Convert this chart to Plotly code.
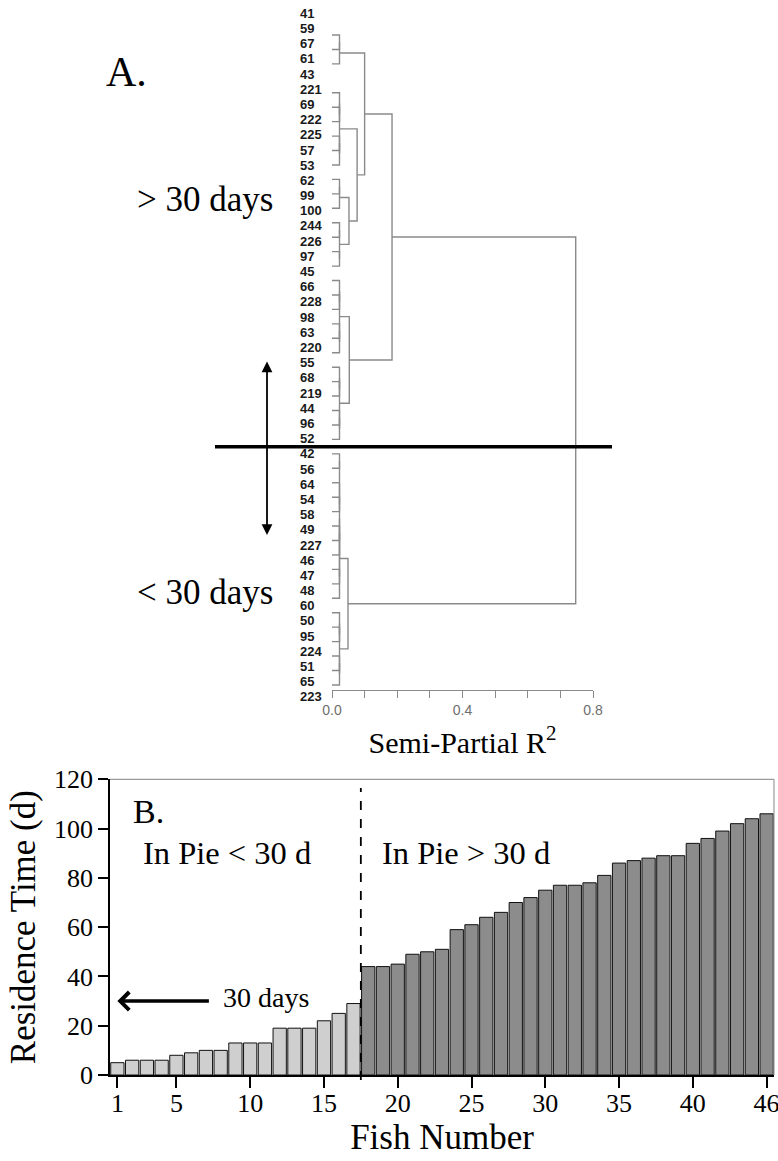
import plotly.graph_objects as go

# ---------------- data ----------------
# Panel A: fish IDs as listed down the dendrogram (text column)
leaf_labels = ["41", "59", "67", "61", "43", "221", "69", "222", "225", "57", "53",
               "62", "99", "100", "244", "226", "97", "45", "66", "228", "98", "63",
               "220", "55", "68", "219", "44", "96", "52", "42", "56", "64", "54",
               "58", "49", "227", "46", "47", "48", "60", "50", "95", "224", "51",
               "65", "223"]

# Cluster tree over leaf slots (slot 3 carries no branch).
# A node is [height, left, right]; an int is a leaf slot.
H_LEAF = 0.023
grp_a = [H_LEAF, [H_LEAF, 0, 1], 2]
grp_b = [H_LEAF, [H_LEAF, 4, [H_LEAF, 5, 6]], [H_LEAF, [H_LEAF, 7, 8], 9]]
grp_c = [H_LEAF, [H_LEAF, 10, 11], 12]
grp_d = [H_LEAF, [H_LEAF, 13, 14], [H_LEAF, 15, 16]]
grp_e = [H_LEAF, [H_LEAF, 17, [H_LEAF, 18, 19]], [H_LEAF, [H_LEAF, 20, 21], 22]]
grp_f = [H_LEAF, [H_LEAF, 23, [H_LEAF, 24, 25]], [H_LEAF, [H_LEAF, 26, 27], 28]]
grp_g = [H_LEAF,
         [H_LEAF,
          [H_LEAF, [H_LEAF, [H_LEAF, 29, 30], [H_LEAF, 32, 33]], 31],
          [H_LEAF, [H_LEAF, [H_LEAF, 34, 35], [H_LEAF, 37, 38]], 36]],
         39]
grp_h = [H_LEAF, [H_LEAF, 40, [H_LEAF, 41, 42]], [H_LEAF, [H_LEAF, 43, 44], 45]]

tree = [0.747,
        [0.184,
         [0.100, grp_a, [0.077, grp_b, [0.052, grp_c, grp_d]]],
         [0.053, grp_e, grp_f]],
        [0.049, grp_g, grp_h]]
split_slot = 28.5          # boundary between the two main clusters

# Panel B: residence time (days) per fish, sorted
short_stay = [5, 6, 6, 6, 8, 9, 10, 10, 13, 13, 13, 19, 19, 19, 22, 25, 29]
long_stay = [44, 44, 45, 49, 50, 51, 59, 61, 64, 66, 70, 72, 75, 77, 77, 78, 81,
             86, 87, 88, 89, 89, 94, 96, 99, 102, 104, 106]
fish_tickvals = [1, 5, 10, 15, 20, 25, 30, 35, 40, 45]
fish_ticktext = ["1", "5", "10", "15", "20", "25", "30", "35", "40", "46"]
threshold_days = 30

# ---------------- helpers ----------------
W, H = 778, 1161


def px(x):
    return x / W


def py(y):
    return 1 - y / H


seg_x, seg_y = [], []


def walk(node):
    """Return (slot position, height) of node and collect its branch segments."""
    if isinstance(node, int):
        return float(node), 0.0
    h, left, right = node
    p1, h1 = walk(left)
    p2, h2 = walk(right)
    seg_x.extend([h1, h, h, h2, None])
    seg_y.extend([p1, p1, p2, p2, None])
    return (p1 + p2) / 2, h


walk(tree)

SERIF = "Liberation Serif"
SANS = "Liberation Sans"
TREE_GRAY = "#8a8a8a"

fig = go.Figure()

# dendrogram branches
fig.add_trace(go.Scatter(x=seg_x, y=seg_y, mode="lines",
                         line=dict(color=TREE_GRAY, width=1.4),
                         xaxis="x", yaxis="y", hoverinfo="skip", showlegend=False))

# leaf label column (own axes so the column keeps its own spacing)
fig.add_trace(go.Scatter(x=[0] * len(leaf_labels), y=list(range(len(leaf_labels))),
                         mode="text", text=leaf_labels, textposition="middle right",
                         textfont=dict(family=SANS, size=13, color="#1a1a1a", weight="bold"),
                         cliponaxis=False, xaxis="x3", yaxis="y3",
                         hoverinfo="skip", showlegend=False))

# residence-time bars
n_short = len(short_stay)
x_short = list(range(1, n_short + 1))
x_long = list(range(n_short + 1, n_short + len(long_stay) + 1))
fig.add_trace(go.Bar(x=x_short, y=short_stay, marker=dict(color="#cfcfcf",
                     line=dict(color="#111111", width=1)),
                     xaxis="x2", yaxis="y2", showlegend=False))
fig.add_trace(go.Bar(x=x_long, y=long_stay, marker=dict(color="#8c8c8c",
                     line=dict(color="#111111", width=1)),
                     xaxis="x2", yaxis="y2", showlegend=False))

fig.update_layout(
    width=W, height=H, margin=dict(l=0, r=0, t=0, b=0),
    paper_bgcolor="white", plot_bgcolor="white",
    bargap=0.1,
    xaxis=dict(domain=[px(332), px(593)], range=[0, 0.8], anchor="y",
               showline=True, linecolor=TREE_GRAY, linewidth=1.4,
               ticks="outside", ticklen=7, tickcolor=TREE_GRAY, tickwidth=1.4,
               tickvals=[0, 0.1, 0.2, 0.3, 0.4, 0.5, 0.6, 0.7, 0.8],
               ticktext=["0.0", "", "", "", "0.4", "", "", "", "0.8"],
               tickfont=dict(family=SANS, size=14, color="#6e6e6e"),
               showgrid=False, zeroline=False, automargin=False,
               title=dict(text="Semi-Partial R<sup>2</sup>",
                          font=dict(family=SERIF, size=30, color="black"), standoff=14)),
    yaxis=dict(domain=[py(690), py(10)], range=[45.35, -1.73], visible=False,
               anchor="x"),
    xaxis3=dict(domain=[px(300), px(330)], range=[0, 1], visible=False, anchor="y3"),
    yaxis3=dict(domain=[py(705), py(5)], range=[45.45, -0.63], visible=False,
                anchor="x3"),
    xaxis2=dict(domain=[px(110), px(774)], range=[0.5, 45.5], anchor="y2",
                showline=True, linecolor="black", linewidth=1.5,
                ticks="outside", ticklen=11, tickwidth=2, tickcolor="black",
                tickvals=fish_tickvals, ticktext=fish_ticktext,
                tickfont=dict(family=SERIF, size=26, color="black"),
                ticklabelstandoff=-7, ticklabeloverflow="allow",
                showgrid=False, zeroline=False, automargin=False,
                title=dict(text="Fish Number", font=dict(family=SERIF, size=35, color="black"),
                           standoff=4)),
    yaxis2=dict(domain=[py(1075), py(779.3)], range=[0, 120], anchor="x2",
                showline=True, linecolor="black", linewidth=1.5,
                ticks="outside", ticklen=10, tickwidth=2, tickcolor="black",
                dtick=20, tickfont=dict(family=SERIF, size=26, color="black"),
                showgrid=False, zeroline=False, automargin=False,
                title=dict(text="Residence Time (d)",
                           font=dict(family=SERIF, size=35, color="black"), standoff=8)),
)

shapes = [
    # cut line between the two clusters
    dict(type="line", xref="paper", yref="y", x0=px(215), x1=px(612),
         y0=split_slot, y1=split_slot, line=dict(color="black", width=3.5)),
    # top and right frame of panel B
    dict(type="line", xref="x2 domain", yref="y2 domain", x0=0, x1=1, y0=1, y1=1,
         line=dict(color="#9a9a9a", width=1.2)),
    dict(type="line", xref="x2 domain", yref="y2 domain", x0=1, x1=1, y0=0, y1=1,
         line=dict(color="#9a9a9a", width=1.2)),
    # group boundary in panel B
    dict(type="line", xref="x2", yref="paper", x0=n_short + 0.5, x1=n_short + 0.5,
         y0=py(1080), y1=py(788), line=dict(color="black", width=1.8, dash="dash")),
]
fig.update_layout(shapes=shapes)

ann = [
    dict(text="A.", x=px(104), y=py(72), xanchor="left", yanchor="middle",
         font=dict(family=SERIF, size=42, color="black")),
    dict(text="&gt; 30 days", x=px(135), y=py(200), xanchor="left", yanchor="middle",
         font=dict(family=SERIF, size=35, color="black")),
    dict(text="&lt; 30 days", x=px(135), y=py(592), xanchor="left", yanchor="middle",
         font=dict(family=SERIF, size=35, color="black")),
    dict(text="B.", x=px(131), y=py(811), xanchor="left", yanchor="middle",
         font=dict(family=SERIF, size=34, color="black")),
    dict(text="In Pie &lt; 30 d", x=px(141), y=py(853), xanchor="left", yanchor="middle",
         font=dict(family=SERIF, size=32.5, color="black")),
    dict(text="In Pie &gt; 30 d", x=px(380), y=py(853), xanchor="left", yanchor="middle",
         font=dict(family=SERIF, size=32.5, color="black")),
    dict(text="30 days", x=px(221), y=py(997), xanchor="left", yanchor="middle",
         font=dict(family=SERIF, size=28, color="black")),
]
for a in ann:
    a.update(xref="paper", yref="paper", showarrow=False)

# double-headed arrow across the cut line
ann.append(dict(x=px(267), y=py(535), xref="paper", yref="paper", text="",
                showarrow=True, ax=0, ay=-175, arrowside="end+start",
                arrowhead=2, arrowsize=1.2, arrowwidth=1.8, arrowcolor="black"))
# arrow pointing at the 30-day mark on the axis
ann.append(dict(x=1, y=threshold_days, xref="x2", yref="y2", text="",
                showarrow=True, ax=93, ay=0, arrowhead=4, arrowsize=1,
                arrowwidth=3.5, arrowcolor="black"))
fig.update_layout(annotations=ann)

fig.write_html("out.html")
